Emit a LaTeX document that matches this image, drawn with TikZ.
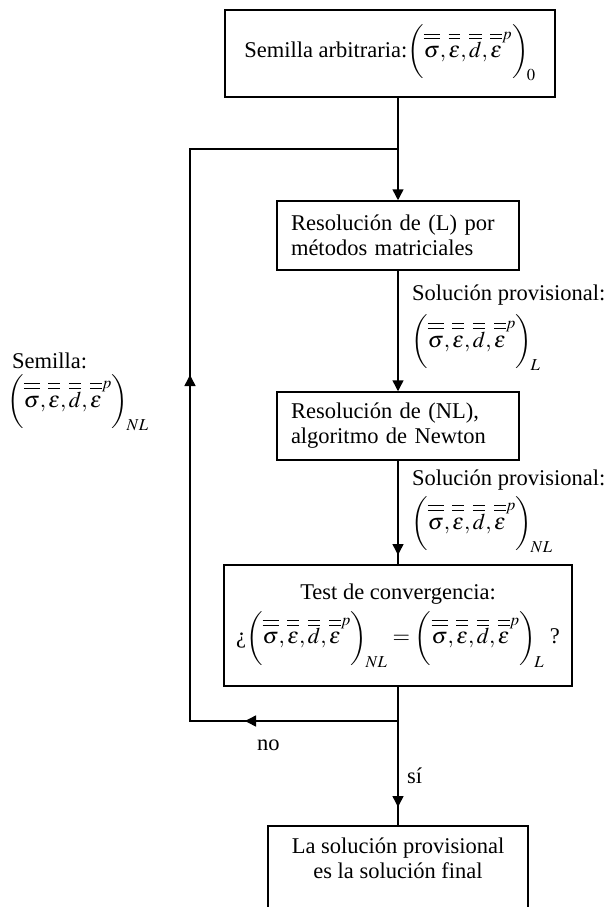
\documentclass[tikz,border=0pt]{standalone}
\usepackage{amsmath}
\usepackage{mathptmx}
\usepackage{fontspec}
\setmainfont{Liberation Serif}
\usetikzlibrary{arrows.meta,calc}

\newcommand{\dblbar}[1]{\overline{\overline{\vphantom{d}#1}}}
\newcommand{\svec}[1]{\left(\dblbar{\sigma}{,}\,\dblbar{\varepsilon}{,}\,\dblbar{d}{,}\,\dblbar{\varepsilon}^{p}\rule[-1.0em]{0pt}{2.4em}\right)_{\!#1}}

\tikzset{
  box/.style={draw, line width=1.5pt, inner sep=0pt},
  lbl/.style={inner sep=0pt, anchor=base west},
  conn/.style={line width=1.5pt},
  arr/.style={line width=1.5pt, -{Triangle[length=11pt,width=11pt]}},
}

\begin{document}
\begin{tikzpicture}[x=1pt,y=-1pt,font=\fontsize{22.5}{25}\selectfont]
\useasboundingbox (0,0) rectangle (611,907);

% boxes
\node[box, minimum width=330pt, minimum height=87pt, text height=30pt, text depth=22pt] (b1) at (390,53.5)
  {Semilla arbitraria:$\svec{0}$};
\node[box, text width=214pt, inner xsep=14pt, align=left, minimum height=69pt] (b2) at (398,235.5)
  {Resolución de (L) por\\métodos matriciales};
\node[box, text width=214pt, inner xsep=14pt, align=left, minimum height=68pt] (b3) at (398,426)
  {Resolución de (NL),\\algoritmo de Newton};
\node[box, minimum width=348pt, minimum height=121pt, align=center] (b4) at (398,625.5)
  {Test de convergencia:\\[6pt]¿$\svec{NL}=\svec{L}$ ?\rule[-6pt]{0pt}{6pt}};
\node[box, anchor=north, minimum width=260pt, inner ysep=12pt, align=center] (b5) at (398,825)
  {La solución provisional\\es la solución final\rule[-60pt]{0pt}{60pt}};

% labels
\node[lbl] (s1t) at (412,300) {Solución provisional:};
\node[lbl] (s1m) at (411,347) {$\svec{L}$};
\node[lbl] (s2t) at (412,485) {Solución provisional:};
\node[lbl] (s2m) at (411,529) {$\svec{NL}$};
\node[lbl] (s0t) at (12,368) {Semilla:};
\node[lbl] (s0m) at (7,407) {$\svec{NL}$};
\node[lbl] (no) at (257,750) {no};
\node[lbl] (si) at (407,783) {sí};

% coordinates
\coordinate (jt) at (398,149);
\coordinate (lt) at (190,149);
\coordinate (lb) at (190,721);
\coordinate (jb) at (398,721);
\coordinate (tipU) at (190,375);
\coordinate (tipL) at (245,721);
\coordinate (tip4) at (398,555);
\coordinate (tip5) at (398,807);

% connectors
\draw[conn] (b1.south -| b2.north) -- (jt);
\draw[arr] (jt) -- (b2.north);
\draw[arr] (b2.south) -- (b3.north);
\draw[conn] (b3.south) -- (b4.north);
\draw[arr] (b3.south) -- (tip4);
\draw[conn] (b4.south) -- (jb) -- (b5.north);
\draw[arr] (jb) -- (tip5);
\draw[conn] (jb) -- (lb) -- (lt) -- (jt);
\draw[arr] (jb) -- (tipL);
\draw[arr] (lb) -- (tipU);
\end{tikzpicture}
\end{document}
